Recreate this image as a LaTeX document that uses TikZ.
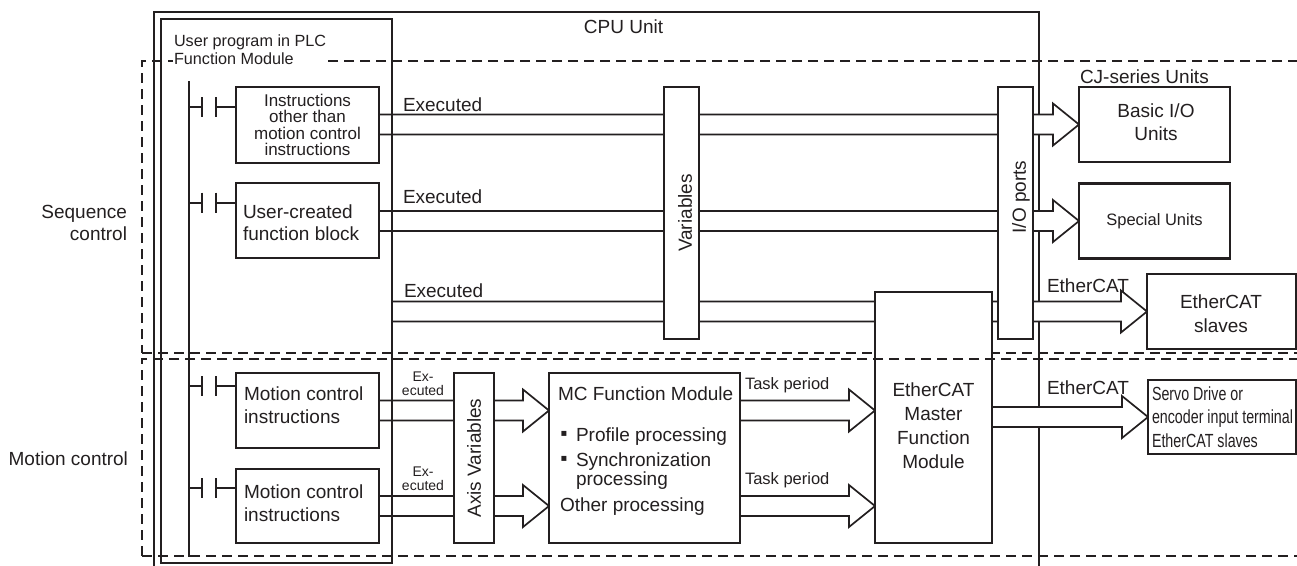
\documentclass[tikz,border=0pt]{standalone}
\usepackage{fontspec}
\setmainfont{Liberation Sans}
\newfontfamily\narrowfont[FakeStretch=0.75]{Liberation Sans}
\newfontfamily\bulfont{DejaVu Sans}
\usetikzlibrary{calc}
\definecolor{ink}{RGB}{35,31,32}
\newcommand\fsz[2]{\fontsize{#1}{#2}\selectfont}
\newcommand\sqb{{\bulfont\fsz{10}{10}▪}}
\pgfdeclarelayer{bg}
\pgfsetlayers{bg,main}
\newcommand\harrow[2]{%
  \path[fill=white] let \p1=(#1), \p2=(#2) in
    (\x1,\y2+10pt) -- (\x2-26pt,\y2+10pt) -- (\x2-26pt,\y2+21pt) -- (\x2,\y2)
    -- (\x2-26pt,\y2-21pt) -- (\x2-26pt,\y2-10pt) -- (\x1,\y2-10pt) -- cycle;
  \draw[arrln] let \p1=(#1), \p2=(#2) in
    (\x1,\y2+10pt) -- (\x2-26pt,\y2+10pt) -- (\x2-26pt,\y2+21pt) -- (\x2,\y2)
    -- (\x2-26pt,\y2-21pt) -- (\x2-26pt,\y2-10pt) -- (\x1,\y2-10pt);
}
\begin{document}
\begin{tikzpicture}[x=1pt,y=-1pt,
  every node/.style={inner sep=0pt, outer sep=0pt, text=ink, font=\fsz{19}{23}},
  blk/.style 2 args={draw=ink, line width=2.1pt, fill=white, minimum width=#1pt, minimum height=#2pt},
  ln/.style={draw=ink, line width=2pt},
  arrln/.style={draw=ink, line width=1.7pt, line join=miter},
  dsh/.style={draw=ink, dash pattern=on 10pt off 6pt, line width=1.5pt},
]
\useasboundingbox (0,0) rectangle (1297,565);
\clip (0,0) rectangle (1297,565);

% user program box
\node[draw=ink, line width=2.6pt, minimum width=231pt, minimum height=544pt] (up) at (276.5,291) {};

% ladder rail and contacts
\coordinate (railtop) at (189,81);
\coordinate (railbot) at (189,557);
\draw[ln] (railtop) -- (railbot);
\coordinate (r1) at (189,107);
\coordinate (r2) at (189,202.5);
\coordinate (r3) at (189,386);
\coordinate (r4) at (189,488);

% instruction boxes
\node[blk={143}{76}, align=center, font=\fsz{17}{16.5}] (b1) at (307.5,125) {Instructions\\other than\\motion control\\instructions};
\node[blk={143}{75}] (b2) at (307.5,220.5) {};
\node[anchor=west, align=left, font=\fsz{19}{22.5}] (b2t) at (243,222.5) {User-created\\function block};
\node[blk={143}{75}] (b3) at (307.5,410.5) {};
\node[anchor=west, align=left] (b3t) at (244,405.7) {Motion control\\instructions};
\node[blk={143}{74}] (b4) at (307.5,506) {};
\node[anchor=west, align=left] (b4t) at (244,503.5) {Motion control\\instructions};

\foreach \c/\b in {r1/b1, r2/b2, r3/b3, r4/b4} {
  \draw[ln] (\c) -- ++(13,0) ++(0,-10) -- ++(0,20) ++(14,-20) -- ++(0,20) ++(0,-10) -- (\b.west |- \c);
}

% variables and I/O ports
\node[blk={35}{252}] (vars) at (681.5,213) {};
\node[rotate=90] (varst) at (685,213) {Variables};
\node[blk={35}{252}] (io) at (1015.5,213) {};
\node[rotate=90] (iot) at (1021,197) {I/O ports};

% CJ-series units
\node[anchor=base west] (cjl) at (1080,83) {CJ-series Units};
\node[blk={151}{75}] (basic) at (1154.5,124.5) {};
\node[align=center] (basict) at (1156,122) {Basic I/O\\Units};
\node[blk={151}{75}, font=\fsz{16.5}{20}] (special) at (1154.5,221) {Special Units};
\node[blk={149}{75}] (ecs) at (1221.5,311.5) {};
\node[align=center, font=\fsz{19}{24}] (ecst) at (1221,314) {EtherCAT\\slaves};
\node[blk={148}{74}] (servo) at (1222,417) {};
\node[anchor=west, align=left, font=\narrowfont\fsz{19}{23.5}] (servot) at (1152,417) {Servo Drive or\\encoder input terminal\\EtherCAT slaves};

% axis variables and MC function module
\node[blk={40}{170}] (axis) at (474,458) {};
\node[rotate=90] (axist) at (474,458) {Axis Variables};
\node[blk={191}{170}] (mc) at (644.5,458) {};
\node[anchor=base west] (mc1) at (558,400) {MC Function Module};
\node (bu1) at (564,433.5) {\sqb};
\node[anchor=base west] (mc2) at (576,441) {Profile processing};
\node (bu2) at (564,458.5) {\sqb};
\node[anchor=base west] (mc3) at (576,466.5) {Synchronization};
\node[anchor=base west] (mc4) at (576,485) {processing};
\node[anchor=base west] (mc5) at (560,511) {Other processing};

% sequence control region
\node[dsh, minimum width=1168pt, minimum height=292pt] (seqreg) at (726,207) {};

% EtherCAT master
\node[blk={117}{251}] (master) at (933.5,417.5) {};
\node[align=center, font=\fsz{19}{24}] (mastert) at (933.5,426) {EtherCAT\\Master\\Function\\Module};

% motion control region
\node[dsh, minimum width=1168pt, minimum height=197pt] (motreg) at (726,457.5) {};

% labels
\node[anchor=north west, align=left, fill=white, font=\fsz{16.2}{18}, inner sep=1pt] (upl) at (173,34) {User program in PLC\\Function Module};
\node[anchor=north east, align=right, font=\fsz{19}{21.7}] (seql) at (127,205.5) {Sequence\\control};
\node[anchor=base east] (motl) at (128,465) {Motion control};
\node[anchor=base west] (ex1) at (403,111) {Executed};
\node[anchor=base west] (ex2) at (403,203) {Executed};
\node[anchor=base west] (ex3) at (404,297) {Executed};
\node[align=center, font=\fsz{14}{14}] (ex4) at (423,384) {Ex-\\ecuted};
\node[align=center, font=\fsz{14}{14}] (ex5) at (423,479) {Ex-\\ecuted};
\node[anchor=base west, font=\fsz{16.5}{20}] (tp1) at (745,389) {Task period};
\node[anchor=base west, font=\fsz{16.5}{20}] (tp2) at (745,484) {Task period};
\node[anchor=base west] (ec1) at (1047,292) {EtherCAT};
\node[anchor=base west] (ec2) at (1047,394) {EtherCAT};

% background: CPU unit and hollow arrows
\begin{pgfonlayer}{bg}
\node[draw=ink, line width=1.1pt, minimum width=885pt, minimum height=588pt] (cpu) at (596.5,306) {};
\node[anchor=base] (cpul) at (623.5,33) {CPU Unit};
\coordinate (m1) at (master.west |- b3.east);
\coordinate (m2) at (master.west |- b4.east);
\coordinate (c1) at (mc.west |- b3.east);
\coordinate (c2) at (mc.west |- b4.east);
\harrow{b1.east}{basic.west}
\harrow{b2.east}{special.west}
\harrow{up.east}{ecs.west}
\harrow{b3.east}{c1}
\harrow{b4.east}{c2}
\harrow{mc.east}{m1}
\harrow{mc.east}{m2}
\harrow{master.east}{servo.west}
\end{pgfonlayer}
\end{tikzpicture}
\end{document}
